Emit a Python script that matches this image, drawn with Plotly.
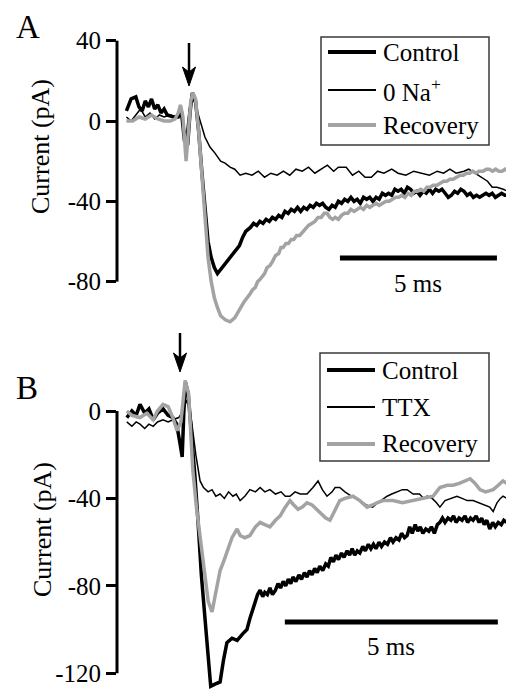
import plotly.graph_objects as go

# ---------------- Panel A data (time in ms, current in pA) ----------------
a_ctrl_t = [0.3, 0.45, 0.6, 0.7, 0.8, 0.9, 1.0, 1.1, 1.2, 1.3, 1.4, 1.5, 1.6, 1.8, 1.95, 2.05, 2.15, 2.25, 2.33, 2.4, 2.5,
            2.6, 2.7, 2.8, 2.9, 3.0, 3.1, 3.2, 3.3, 3.4, 3.5, 3.6, 3.7, 3.8, 3.9, 4.0, 4.1,
            4.25, 4.35, 4.45, 4.55, 4.65, 4.75, 4.85, 4.95, 5.05, 5.15, 5.25, 5.35, 5.45, 5.55, 5.65, 5.75, 5.85,
            5.95, 6.05, 6.15, 6.25, 6.35, 6.45, 6.55, 6.65, 6.75, 6.85, 6.95, 7.05, 7.15, 7.25, 7.35, 7.45, 7.55,
            7.65, 7.75, 7.85, 7.95, 8.05, 8.15, 8.25, 8.35, 8.45, 8.55, 8.65, 8.75, 8.85, 8.95, 9.05, 9.15, 9.25,
            9.35, 9.45, 9.55, 9.65, 9.75, 9.85, 9.95, 10.05, 10.15, 10.25, 10.35, 10.45, 10.55, 10.65, 10.75,
            10.85, 10.95, 11.05, 11.15, 11.25, 11.35, 11.45, 11.55, 11.65, 11.75, 11.85, 11.95, 12.05, 12.15,
            12.25, 12.35, 12.45]
a_ctrl_v = [5, 11, 12, 7, 5, 10, 7, 11, 6, 8, 4, 6, 3, 2, 2, 5, -10, -12, 5, 14, 10,
            -5, -25, -45, -60, -68, -73, -76, -74, -72, -70, -68, -66, -64, -62, -58, -55,
            -53, -51, -52, -50, -51, -49, -50, -48, -49, -47, -48, -45, -46, -44, -45, -43, -45,
            -43, -44, -42, -43, -41, -42, -41, -43, -44, -42, -43, -40, -41, -39, -40, -38, -40,
            -39, -41, -38, -39, -38, -40, -38, -39, -36, -37, -36, -37, -34, -35, -34, -36, -33,
            -34, -36, -35, -37, -35, -36, -34, -36, -34, -35, -34, -36, -38, -37, -35,
            -36, -34, -35, -37, -36, -38, -37, -38, -37, -36, -37, -36, -38, -37,
            -36, -37, -37]

a_na_t = [0.3, 0.45, 0.6, 0.75, 0.9, 1.05, 1.2, 1.35, 1.5, 1.7, 1.9, 2.05, 2.2, 2.3, 2.4, 2.5, 2.64, 2.8, 2.96, 3.12,
          3.3, 3.44, 3.6, 3.75, 3.92, 4.1, 4.3, 4.5, 4.7, 4.9, 5.1, 5.3, 5.5, 5.7, 5.9, 6.1, 6.3, 6.5, 6.7, 6.9, 7.05,
          7.3, 7.5, 7.7, 7.9, 8.1, 8.3, 8.5, 8.75, 8.95, 9.2, 9.45, 9.7, 9.95, 10.2, 10.4, 10.6, 10.8, 11.05, 11.2,
          11.4, 11.6, 11.8, 11.95, 12.1, 12.3, 12.45]
a_na_v = [2, 0, 3, 6, 2, 4, 1, 3, 2, 3, 2, 4, -8, 6, 12, 8, 0.5, -8, -13, -16,
          -20, -21, -23, -24, -27, -26, -27, -25, -28, -26, -27, -25, -27, -24, -25, -23, -26, -24, -22, -25, -23,
          -23, -27, -25, -28, -28, -25, -26, -24, -26, -27, -25, -26, -27, -25, -26, -24, -26, -25, -24,
          -26, -28, -30, -33, -33, -34, -35]

a_rec_t = [0.3, 0.5, 0.7, 0.9, 1.1, 1.3, 1.5, 1.7, 1.85, 1.95, 2.02, 2.1, 2.2, 2.28, 2.35, 2.42, 2.5, 2.6, 2.7, 2.8,
           2.9, 3.0, 3.1, 3.2, 3.3, 3.45, 3.6, 3.75, 3.9, 4.05,
           4.24, 4.32, 4.4, 4.48, 4.55, 4.63, 4.7, 4.78, 4.87, 4.95, 5.05, 5.15, 5.22, 5.29, 5.38, 5.46, 5.55,
           5.63, 5.72, 5.82, 5.92, 6.0, 6.1, 6.2, 6.3, 6.4, 6.5, 6.6, 6.69, 6.78, 6.87, 6.95, 7.05, 7.15, 7.25,
           7.35, 7.45, 7.55, 7.64, 7.75, 7.85, 7.95, 8.05, 8.15, 8.25, 8.35, 8.47, 8.57, 8.67, 8.77, 8.87, 8.97,
           9.07, 9.17, 9.27, 9.37, 9.47, 9.57, 9.67, 9.77, 9.87, 9.97, 10.07, 10.19, 10.3, 10.4, 10.5, 10.6,
           10.7, 10.83, 10.93, 11.03, 11.13, 11.23, 11.33, 11.43, 11.53, 11.66, 11.76, 11.86, 11.96, 12.06,
           12.16, 12.26, 12.36, 12.45]
a_rec_v = [0, 0, 2, 1, 3, 1, 0, 0, 1, 4, 8, 2, -20, -5, 10, 14, 11, -5, -28, -50,
           -68, -80, -88, -93, -97, -99, -100, -98, -94, -90,
           -86, -84, -83, -80, -79, -77, -76, -73, -72, -70, -67, -66, -63, -63, -61, -61, -59,
           -59, -57, -57, -55, -54, -52, -51, -50, -48, -48, -46, -46, -48, -49, -48, -49, -47, -46,
           -46, -44, -45, -44, -43, -44, -42, -43, -42, -41, -42, -41, -40, -40, -39, -38, -38,
           -37, -38, -36, -37, -35, -35, -34, -35, -33, -33, -32, -32, -31, -30, -30, -29,
           -29, -28, -27, -27, -26, -26, -25, -26, -25, -25, -24, -24, -25, -24,
           -25, -25, -24, -25]

# ---------------- Panel B data ----------------
b_ctrl_t = [0.23, 0.35, 0.45, 0.54, 0.65, 0.75, 0.85, 0.95, 1.08, 1.2, 1.31, 1.4, 1.48, 1.53, 1.57, 1.61, 1.67, 1.75,
            1.83, 1.9, 1.98, 2.07, 2.14, 2.2, 2.3, 2.42, 2.5, 2.58, 2.7, 2.82, 2.95, 3.05, 3.12, 3.2, 3.3,
            3.36, 3.42, 3.47, 3.53, 3.59, 3.65, 3.72, 3.78, 3.84, 3.9, 3.96, 4.02, 4.08, 4.13, 4.2, 4.27, 4.33,
            4.4, 4.46, 4.52, 4.58, 4.64, 4.7, 4.76, 4.83, 4.9, 4.96, 5.02, 5.08, 5.14, 5.2, 5.27, 5.33, 5.4,
            5.46, 5.52, 5.58, 5.64, 5.7, 5.77, 5.83, 5.9, 5.96, 6.02, 6.08, 6.15, 6.21, 6.28, 6.35, 6.42, 6.48,
            6.55, 6.62, 6.68, 6.75, 6.81, 6.87, 6.93, 7.0, 7.06, 7.12, 7.18, 7.25, 7.32, 7.38, 7.45, 7.52, 7.58,
            7.64, 7.7, 7.77, 7.84, 7.9, 7.96, 8.03, 8.1, 8.17, 8.23, 8.3, 8.36, 8.43, 8.5, 8.56, 8.62, 8.68,
            8.75, 8.82, 8.88, 8.95, 9.02, 9.08, 9.15]
b_ctrl_v = [-3, 0, -2, 3, -1, 1, -4, -1, 1, -2, -3, -6, -15, -21, 0, 13, 8, -10,
            -30, -50, -75, -96, -115, -126, -125, -124, -114, -106, -104, -105, -102, -100, -95, -90, -84,
            -82, -85, -83, -84, -81, -84, -82, -79, -81, -78, -80, -77, -79, -76, -78, -75, -77,
            -74, -76, -73, -75, -72, -74, -71, -73, -70, -71, -67, -69, -66, -68, -65, -67, -64,
            -66, -63, -66, -64, -65, -62, -64, -61, -63, -61, -63, -60, -62, -60, -61, -58, -60,
            -58, -59, -56, -58, -57, -53, -56, -52, -55, -53, -56, -54, -55, -53, -56, -52, -51,
            -49, -51, -49, -50, -48, -51, -49, -50, -48, -51, -49, -50, -48, -51, -49, -52, -50,
            -54, -51, -53, -51, -52, -50, -51]

b_ttx_t = [0.23, 0.35, 0.45, 0.54, 0.65, 0.75, 0.85, 0.95, 1.08, 1.2, 1.31, 1.45, 1.55, 1.64, 1.72, 1.78, 1.85, 1.95,
           2.03, 2.14, 2.23, 2.32, 2.42, 2.52, 2.62, 2.72, 2.8, 2.89, 3.0, 3.12, 3.25, 3.36, 3.47, 3.59, 3.72, 3.85,
           3.95, 4.06, 4.18, 4.3, 4.46, 4.6, 4.72, 4.82, 4.93, 5.05, 5.12, 5.23, 5.35, 5.5, 5.6, 5.7, 5.85, 6.0,
           6.12, 6.25, 6.34, 6.45, 6.6, 6.7, 6.81, 6.95, 7.1, 7.2, 7.28, 7.4, 7.5, 7.58, 7.7, 7.82, 7.98, 8.1,
           8.22, 8.36, 8.5, 8.65, 8.75, 8.83, 8.92, 9.0, 9.06, 9.15]
b_ttx_v = [-5, -7, -5, -6, -8, -6, -7, -5, -4, -5, -4, -3, 0, 5, 0, -9, -20, -32,
           -35, -37, -36, -39, -38, -40, -37, -39, -38, -41, -39, -36, -37, -35, -37, -36, -38, -37,
           -39, -39, -37, -38, -38, -35, -32, -36, -39, -37, -35, -35, -37, -39, -40, -41, -43, -44,
           -42, -40, -39, -38, -37, -36, -36, -38, -38, -40, -39, -40, -42, -44, -41, -40, -39, -40,
           -41, -41, -42, -43, -44, -46, -42, -40, -39, -40]

b_rec_t = [0.23, 0.35, 0.54, 0.7, 0.85, 0.95, 1.08, 1.2, 1.31, 1.41, 1.5, 1.56, 1.6, 1.68, 1.78, 1.87, 1.95, 2.05,
           2.14, 2.23, 2.3, 2.42, 2.5, 2.58, 2.7, 2.82, 2.89, 3.0, 3.12, 3.25, 3.36, 3.47, 3.59, 3.72, 3.83, 3.95,
           4.06, 4.15, 4.25, 4.35, 4.46, 4.58, 4.69, 4.8, 4.9, 5.0, 5.12, 5.23, 5.35, 5.54, 5.7, 5.87, 6.0, 6.1,
           6.25, 6.48, 6.7, 6.95, 7.2, 7.42, 7.5, 7.58, 7.75, 7.89, 8.05, 8.18, 8.29, 8.4, 8.52, 8.65, 8.83, 8.95,
           9.06, 9.15]
b_rec_v = [0, -2, -3, -1, -4, 0, 3, 2, -3, -9, -5, 8, 14, 8, -27, -45, -58, -75,
           -87, -92, -85, -73, -69, -65, -58, -54, -57, -58, -57, -53, -51, -52, -53, -50, -48, -44,
           -41, -43, -45, -44, -42, -43, -45, -47, -49, -50, -45, -41, -40, -39, -41, -44, -43, -42,
           -41, -41, -42, -41, -40, -39, -37, -35, -34, -34, -33, -32, -31, -33, -36, -37, -36, -34,
           -32, -33]

a_names = ["Control", "0 Na<sup>+</sup>", "Recovery"]
b_names = ["Control", "TTX", "Recovery"]
a_ticks = [40, 0, -40, -80]
b_ticks = [0, -40, -80, -120]
a_ticktext = ["40", "0", "-40", "-80"]
b_ticktext = ["0", "-40", "-80", "-120"]

# ---------------- styling ----------------
FONT = "Liberation Serif, 'Times New Roman', Times, 'DejaVu Serif', serif"
BLACK = "#000000"
GRAY = "#a3a3a3"
W, H = 506, 690
styles = [(BLACK, 3.5), (BLACK, 1.5), (GRAY, 3.5)]


def px(x):
    return x / W


def py(y):
    return 1 - y / H


fig = go.Figure()

for (t, v), name, (c, w) in zip([(a_ctrl_t, a_ctrl_v), (a_na_t, a_na_v), (a_rec_t, a_rec_v)], a_names, styles):
    fig.add_trace(go.Scatter(x=t, y=v, mode="lines", name=name, line=dict(color=c, width=w),
                             xaxis="x", yaxis="y", showlegend=False))
for (t, v), name, (c, w) in zip([(b_ctrl_t, b_ctrl_v), (b_ttx_t, b_ttx_v), (b_rec_t, b_rec_v)], b_names, styles):
    fig.add_trace(go.Scatter(x=t, y=v, mode="lines", name=name, line=dict(color=c, width=w),
                             xaxis="x2", yaxis="y2", showlegend=False))

# pixel geometry -> axis ranges
xdom = [117 / W, 1.0]
a_px_per_ms, b_px_per_ms = 31.4, 42.6
a_px_per_pA, b_px_per_pA = 2.008, 2.185
a_zero_px, b_zero_px = 121, 411
a_top, a_bot = 30, 330
b_top, b_bot = 335, 690

a_yrange = [(a_zero_px - a_bot) / a_px_per_pA, (a_zero_px - a_top) / a_px_per_pA]
b_yrange = [(b_zero_px - b_bot) / b_px_per_pA, (b_zero_px - b_top) / b_px_per_pA]
a_xrange = [0, (W - 117) / a_px_per_ms]
b_xrange = [0, (W - 117) / b_px_per_ms]

yaxis_common = dict(showgrid=False, zeroline=False, showline=False, ticks="outside", ticklen=10,
                    tickwidth=3, tickcolor=BLACK, tickfont=dict(family=FONT, size=25, color=BLACK),
                    fixedrange=True, automargin=False)
xaxis_common = dict(domain=xdom, visible=False, automargin=False, fixedrange=True)

fig.update_layout(
    width=W, height=H, margin=dict(l=0, r=0, t=0, b=0, autoexpand=False),
    paper_bgcolor="white", plot_bgcolor="white",
    font=dict(family=FONT, color=BLACK),
    showlegend=False,
    xaxis=dict(range=a_xrange, anchor="y", **xaxis_common),
    yaxis=dict(domain=[py(a_bot), py(a_top)], range=a_yrange, anchor="x",
               tickvals=a_ticks, ticktext=a_ticktext, **yaxis_common),
    xaxis2=dict(range=b_xrange, anchor="y2", **xaxis_common),
    yaxis2=dict(domain=[py(b_bot), py(b_top)], range=b_yrange, anchor="x2",
                tickvals=b_ticks, ticktext=b_ticktext, **yaxis_common),
)

# axis lines spanning only the labelled ticks
fig.add_shape(type="line", xref="x domain", yref="y", x0=0, x1=0, y0=min(a_ticks), y1=max(a_ticks),
              line=dict(color=BLACK, width=3))
fig.add_shape(type="line", xref="x2 domain", yref="y2", x0=0, x1=0, y0=min(b_ticks), y1=max(b_ticks),
              line=dict(color=BLACK, width=3))

# legends (box, line samples, labels)
for (bx0, by0, bx1, by1), rows, names in [((321, 37, 489, 145), (52, 90, 125), a_names),
                                          ((320, 353, 489, 461), (370, 407, 444), b_names)]:
    fig.add_shape(type="rect", xref="paper", yref="paper", x0=px(bx0), x1=px(bx1), y0=py(by1), y1=py(by0),
                  line=dict(color="#3a3a3a", width=1.5), fillcolor="white", layer="above")
    for ry, name, (c, w) in zip(rows, names, styles):
        fig.add_shape(type="line", xref="paper", yref="paper", x0=px(bx0 + 7), x1=px(bx0 + 55),
                      y0=py(ry), y1=py(ry), line=dict(color=c, width=w + 0.5), layer="above")
        fig.add_annotation(xref="paper", yref="paper", x=px(bx0 + 60), y=py(ry), text=name,
                           showarrow=False, xanchor="left", yanchor="middle",
                           font=dict(family=FONT, size=25, color=BLACK))

# scale bars (5 ms)
a_bar_start, a_bar_y = 7.1, (a_zero_px - 258) / a_px_per_pA
b_bar_start, b_bar_y = 3.94, (b_zero_px - 622) / b_px_per_pA
fig.add_shape(type="line", xref="x", yref="y", x0=a_bar_start, x1=a_bar_start + 5, y0=a_bar_y, y1=a_bar_y,
              line=dict(color=BLACK, width=5))
fig.add_shape(type="line", xref="x2", yref="y2", x0=b_bar_start, x1=b_bar_start + 5, y0=b_bar_y, y1=b_bar_y,
              line=dict(color=BLACK, width=5))
fig.add_annotation(xref="x", yref="y", x=a_bar_start + 2.5, y=a_bar_y, yshift=-25, text="5 ms",
                   showarrow=False, font=dict(family=FONT, size=25, color=BLACK))
fig.add_annotation(xref="x2", yref="y2", x=b_bar_start + 2.5, y=b_bar_y, yshift=-24, text="5 ms",
                   showarrow=False, font=dict(family=FONT, size=25, color=BLACK))

# stimulus arrows (shaft + swept head), in page pixels
for ax_x, tail_y, tip_y in [(189, 43, 86), (180, 333, 372)]:
    fig.add_shape(type="line", xref="paper", yref="paper", x0=px(ax_x), x1=px(ax_x),
                  y0=py(tail_y), y1=py(tip_y - 12), line=dict(color=BLACK, width=2.5))
    head = (f"M {px(ax_x)},{py(tip_y)} L {px(ax_x - 6.5)},{py(tip_y - 19)} "
            f"L {px(ax_x)},{py(tip_y - 14)} L {px(ax_x + 6.5)},{py(tip_y - 19)} Z")
    fig.add_shape(type="path", xref="paper", yref="paper", path=head, fillcolor=BLACK,
                  line=dict(color=BLACK, width=1))

# panel letters
fig.add_annotation(xref="paper", yref="paper", x=px(28), y=py(27), text="A", showarrow=False,
                   font=dict(family=FONT, size=33, color=BLACK), xanchor="center", yanchor="middle")
fig.add_annotation(xref="paper", yref="paper", x=px(27), y=py(388), text="B", showarrow=False,
                   font=dict(family=FONT, size=33, color=BLACK), xanchor="center", yanchor="middle")

# y-axis titles
for yc, xc in [(147, 40), (530, 42)]:
    fig.add_annotation(xref="paper", yref="paper", x=px(xc), y=py(yc), text="Current (pA)",
                       textangle=-90, showarrow=False, xanchor="center", yanchor="middle",
                       font=dict(family=FONT, size=26, color=BLACK))

# remove the browser's default 8px page margin so the figure sits at the window origin
fig.write_html("out.html", config={"displayModeBar": False, "staticPlot": True},
               post_script="document.body.style.margin='0px';")
